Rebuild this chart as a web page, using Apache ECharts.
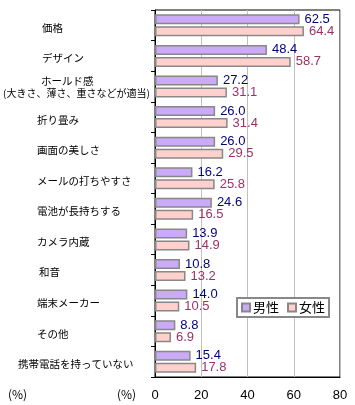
<!DOCTYPE html>
<html><head><meta charset="utf-8">
<script src="https://cdn.jsdelivr.net/npm/echarts@6/dist/echarts.min.js"></script>
<style>html,body{margin:0;padding:0;background:#fff;}#c{width:355px;height:405px;}</style>
</head><body><div id="c"></div>
<script>
var categories = ['価格','デザイン','ホールド感\n(大きさ、薄さ、重さなどが適当)','折り畳み','画面の美しさ','メールの打ちやすさ','電池が長持ちする','カメラ内蔵','和音','端末メーカー','その他','携帯電話を持っていない'];
var male = [62.5,48.4,27.2,26.0,26.0,16.2,24.6,13.9,10.8,14.0,8.8,15.4];
var female = [64.4,58.7,31.1,31.4,29.5,25.8,16.5,14.9,13.2,10.5,6.9,17.8];
var seriesNames = ['男性','女性'];
var xTicks = [0,20,40,60,80];

var labelOffsets = [39,39,0,34,34,34,34,34,36,34,34,15];
var rich = {};
labelOffsets.forEach(function(o,i){ rich['p'+i] = {padding:[5,0,0,o], fontSize:10.5, fontFamily:'Noto Sans CJK JP', color:'#000', lineHeight:13}; });
rich.h1 = {padding:[2,0,0,38], fontSize:10.5, fontFamily:'Noto Sans CJK JP', color:'#000', lineHeight:13};
rich.h2 = {padding:[0,0,0,0], fontSize:10, fontFamily:'Noto Sans CJK JP', color:'#000', lineHeight:13};

var chart = echarts.init(document.getElementById('c'));
var numFont = 'Liberation Sans';
chart.setOption({
  animation:false,
  backgroundColor:'#fff',
  grid:{left:155, right:15, top:10, bottom:28, show:true, borderColor:'#000', borderWidth:1},
  legend:{
    data:seriesNames, left:237, top:298, orient:'horizontal',
    itemWidth:8, itemHeight:8, itemGap:8, padding:[3,4,3,4],
    borderColor:'#888', borderWidth:2, backgroundColor:'#fff',
    textStyle:{fontSize:13, fontFamily:'Noto Sans CJK JP', color:'#000', padding:[0,0,0,-2]},
    icon:'rect'
  },
  xAxis:{
    type:'value', min:xTicks[0], max:xTicks[xTicks.length-1], interval:20,
    axisLine:{show:true, lineStyle:{color:'#000'}}, axisTick:{show:false},
    axisLabel:{color:'#000', fontSize:13, fontFamily:numFont, margin:12},
    splitLine:{show:true, lineStyle:{color:'#c0c0c0', width:1}}
  },
  yAxis:{
    type:'category', data:categories, inverse:true,
    axisLine:{show:true, lineStyle:{color:'#000'}},
    axisTick:{show:true, length:4, lineStyle:{color:'#000'}},
    axisLabel:{
      align:'left', margin:152, interval:0,
      formatter:function(v, i){
        if(i===2){ var p=v.split('\n'); return '{h1|'+p[0]+'}\n{h2|'+p[1]+'}'; }
        return '{p'+i+'|'+v+'}';
      },
      rich:rich
    }
  },
  graphic:[
    {type:'text', left:8, top:388, style:{text:'(%)', font:'12px "Noto Sans CJK JP"', fill:'#000'}},
    {type:'text', left:117, top:388, style:{text:'(%)', font:'12px "Noto Sans CJK JP"', fill:'#000'}}
  ],
  series:[
    {name:seriesNames[0], type:'bar', data:male, barWidth:10, barGap:'20%',
     itemStyle:{color:'#cbaaf8', borderColor:'#888', borderWidth:1.5},
     label:{show:true, position:'right', distance:5, color:'#000080', fontSize:13, fontFamily:numFont, formatter:function(p){return p.value.toFixed(1);}}},
    {name:seriesNames[1], type:'bar', data:female, barWidth:10, barGap:'20%',
     itemStyle:{color:'#ffd0cc', borderColor:'#888', borderWidth:1.5},
     label:{show:true, position:'right', distance:5, color:'#993366', fontSize:13, fontFamily:numFont, formatter:function(p){return p.value.toFixed(1);}}}
  ]
});
</script></body></html>
